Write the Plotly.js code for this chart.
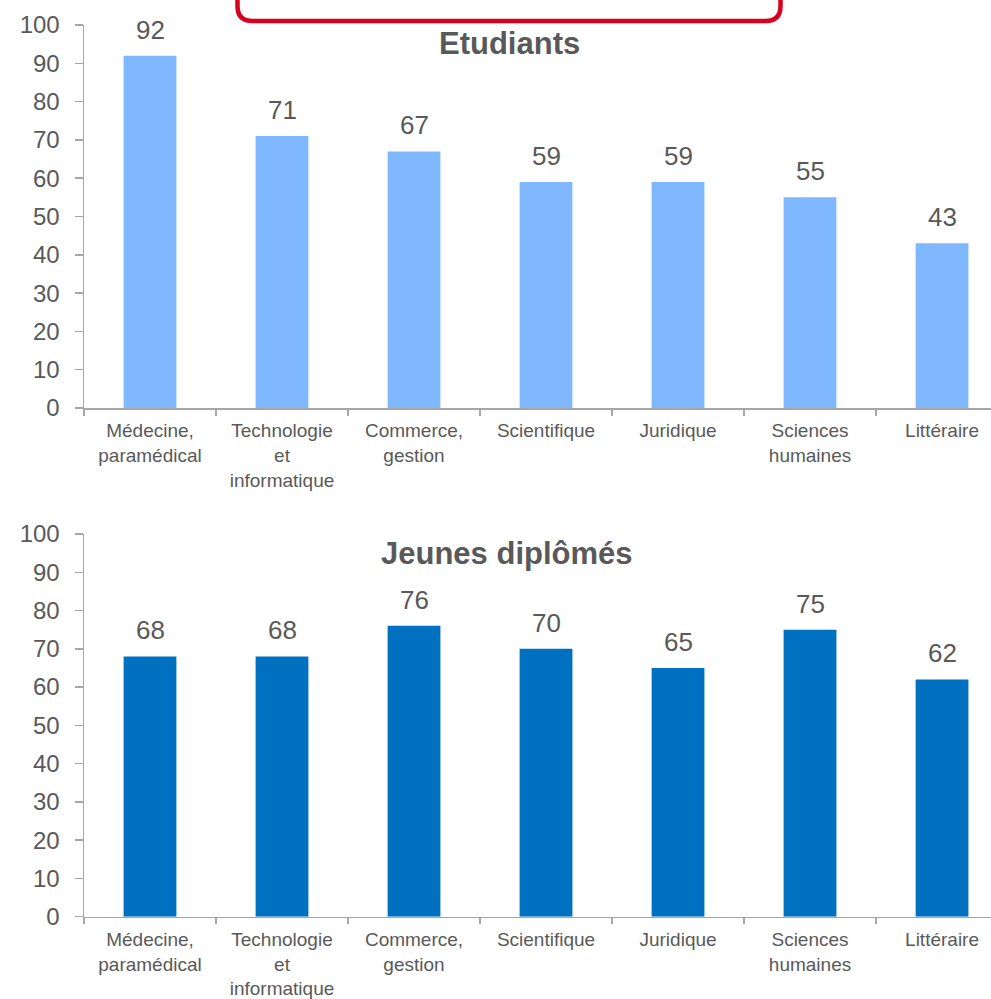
<!DOCTYPE html>
<html>
<head>
<meta charset="utf-8">
<script src="https://cdn.plot.ly/plotly-3.0.1.min.js"></script>
<style>html,body{margin:0;padding:0;background:#fff;}#chart{width:991px;height:999px;}</style>
</head>
<body>
<div id="chart"></div>
<script>
const categories = ["Médecine,<br>paramédical", "Technologie<br>et<br>informatique", "Commerce,<br>gestion", "Scientifique", "Juridique", "Sciences<br>humaines", "Littéraire"];
const etudiants = [92, 71, 67, 59, 59, 55, 43];
const jeunesDiplomes = [68, 68, 76, 70, 65, 75, 62];
const yTicks = [0, 10, 20, 30, 40, 50, 60, 70, 80, 90, 100];
const titleTop = "Etudiants";
const titleBottom = "Jeunes diplômés";

const W = 991, H = 999;
const px = v => v / W;
const py = v => 1 - v / H;

const textColor = "#595959";
const axisColor = "#A6A6A6";
const font = "Liberation Sans, Arial, sans-serif";

function xAxis(anchor) {
  return {
    type: "category",
    range: [-0.5, 6.371],
    domain: [px(84), 1],
    anchor: anchor,
    showline: true, linecolor: axisColor, linewidth: 1.5,
    ticks: "outside", tickson: "boundaries", ticklen: 6, tickcolor: axisColor, tickwidth: 1.5,
    ticklabelstandoff: 5,
    tickfont: {family: font, size: 19, color: textColor},
    showgrid: false, zeroline: false, automargin: false, fixedrange: true
  };
}
function yAxis(anchor, dom) {
  return {
    range: [0, 100],
    domain: dom,
    anchor: anchor,
    tickvals: yTicks,
    showline: true, linecolor: axisColor, linewidth: 1.5,
    ticks: "outside", ticklen: 8, tickcolor: axisColor, tickwidth: 1.5,
    ticklabelstandoff: 10,
    tickfont: {family: font, size: 24, color: textColor},
    showgrid: false, zeroline: false, automargin: false, fixedrange: true
  };
}

const traces = [
  {type: "bar", x: categories, y: etudiants, xaxis: "x", yaxis: "y", marker: {color: "#80B8FF"}, width: 0.4, hoverinfo: "none"},
  {type: "bar", x: categories, y: jeunesDiplomes, xaxis: "x2", yaxis: "y2", marker: {color: "#0070C0"}, width: 0.4, hoverinfo: "none"}
];

const annotations = [];
etudiants.forEach((v, i) => annotations.push({
  x: categories[i], y: v, xref: "x", yref: "y", text: String(v), showarrow: false,
  yanchor: "bottom", yshift: 9, font: {family: font, size: 26, color: textColor}
}));
jeunesDiplomes.forEach((v, i) => annotations.push({
  x: categories[i], y: v, xref: "x2", yref: "y2", text: String(v), showarrow: false,
  yanchor: "bottom", yshift: 9, font: {family: font, size: 26, color: textColor}
}));
annotations.push({
  x: px(509), y: py(54), xref: "paper", yref: "paper", text: "<b>" + titleTop + "</b>",
  showarrow: false, xanchor: "center", yanchor: "bottom", yshift: -9,
  font: {family: font, size: 31, color: textColor}
});
annotations.push({
  x: px(507), y: py(564), xref: "paper", yref: "paper", text: "<b>" + titleBottom + "</b>",
  showarrow: false, xanchor: "center", yanchor: "bottom", yshift: -9,
  font: {family: font, size: 31, color: textColor}
});

const r = 15;
const L = 237.5, R = 780.5, B = 21, T = -20;
const boxPath = `M ${px(L)} ${py(T)} L ${px(L)} ${py(B - r)} Q ${px(L)} ${py(B)} ${px(L + r)} ${py(B)} L ${px(R - r)} ${py(B)} Q ${px(R)} ${py(B)} ${px(R)} ${py(B - r)} L ${px(R)} ${py(T)}`;

const layout = {
  width: W, height: H,
  margin: {l: 0, r: 0, t: 0, b: 0, pad: 0},
  paper_bgcolor: "#fff", plot_bgcolor: "#fff",
  showlegend: false,
  bargap: 0.6,
  xaxis: xAxis("y"),
  yaxis: yAxis("x", [py(408), py(25)]),
  xaxis2: xAxis("y2"),
  yaxis2: yAxis("x2", [py(916.7), py(534)]),
  annotations: annotations,
  shapes: [{type: "path", xref: "paper", yref: "paper", path: boxPath, line: {color: "#D7001F", width: 4.5}}]
};

Plotly.newPlot("chart", traces, layout, {displayModeBar: false, staticPlot: true});
</script>
</body>
</html>
